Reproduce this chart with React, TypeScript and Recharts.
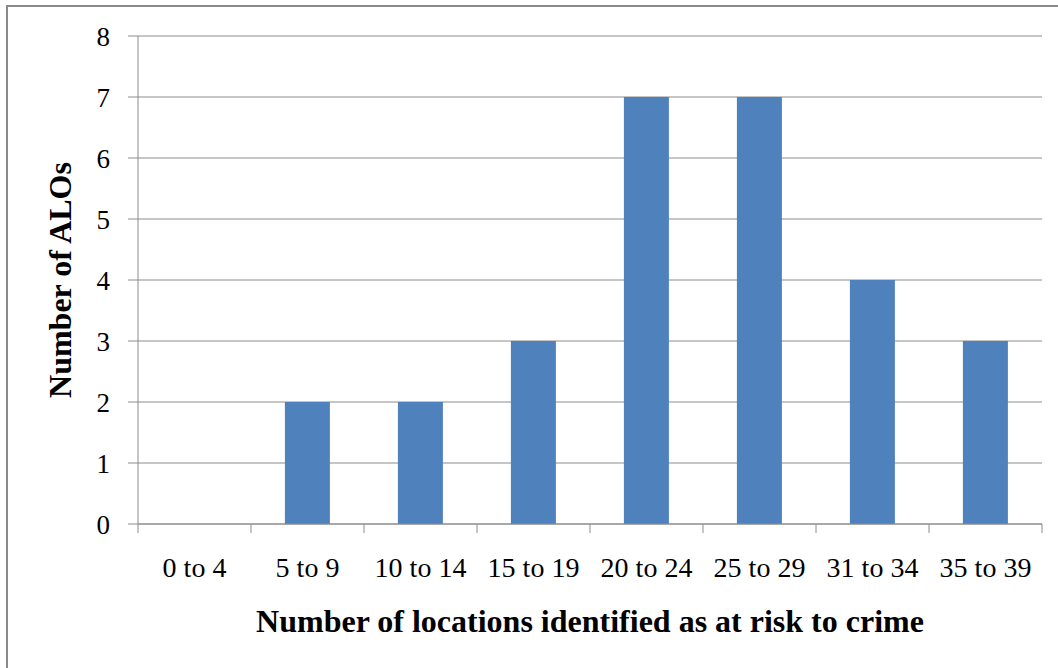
import { BarChart, Bar, XAxis, YAxis, CartesianGrid } from 'recharts'

const categories = ['0 to 4', '5 to 9', '10 to 14', '15 to 19', '20 to 24', '25 to 29', '31 to 34', '35 to 39']
const aloCounts = [0, 2, 2, 3, 7, 7, 4, 3]
const yTicks = [0, 1, 2, 3, 4, 5, 6, 7, 8]

const data = categories.map((name, i) => ({ name, value: aloCounts[i] }))

const FONT = '"Liberation Serif", "Times New Roman", serif'
const GRID = '#8c8c8c'
const X_TICK_SIZE = 9
const X_TICK_MARGIN = 24

function XTick(props: any) {
  const { x, y, payload, index, width } = props
  const half = payload.offset ?? width / categories.length / 2
  const axisY = y - X_TICK_SIZE - X_TICK_MARGIN
  return (
    <g>
      <line x1={x - half} x2={x - half} y1={axisY} y2={axisY + X_TICK_SIZE} stroke={GRID} />
      {index === categories.length - 1 && (
        <line x1={x + half} x2={x + half} y1={axisY} y2={axisY + X_TICK_SIZE} stroke={GRID} />
      )}
      <text x={x} y={y} dy="0.71em" textAnchor="middle" fill="#000" fontSize={28} fontFamily={FONT}>
        {payload.value}
      </text>
    </g>
  )
}

export default function App() {
  return (
    <div style={{ position: 'absolute', left: 0, top: 0, width: 1058, height: 668, background: '#fff', overflow: 'hidden' }}>
      <div
        style={{
          position: 'absolute',
          left: 6,
          top: 5,
          width: 1070,
          height: 700,
          border: '2px solid #8a8a8a',
        }}
      />
      <BarChart
        width={1058}
        height={668}
        data={data}
        margin={{ top: 36, right: 16, bottom: 0, left: 0 }}
        barCategoryGap="30%"
        style={{ position: 'absolute', left: 0, top: 0 }}
      >
        <CartesianGrid horizontal vertical={false} stroke={GRID} strokeWidth={1} />
        <XAxis
          dataKey="name"
          height={144}
          axisLine={{ stroke: GRID }}
          tickLine={false}
          tickSize={X_TICK_SIZE}
          tickMargin={X_TICK_MARGIN}
          interval={0}
          tick={<XTick />}
          label={(p: any) => (
            <text
              x={p.viewBox.x + p.viewBox.width / 2}
              y={632}
              textAnchor="middle"
              fontFamily={FONT}
              fontWeight="bold"
              fontSize={32}
              fill="#000"
            >
              Number of locations identified as at risk to crime
            </text>
          )}
        />
        <YAxis
          width={138}
          domain={[0, 8]}
          ticks={yTicks}
          interval={0}
          axisLine={{ stroke: GRID }}
          tickLine={{ stroke: GRID }}
          tickSize={10}
          tickMargin={18}
          tick={{ fill: '#000', fontSize: 27, fontFamily: FONT }}
          label={(p: any) => (
            <text
              x={60}
              y={p.viewBox.y + p.viewBox.height / 2}
              transform={`rotate(-90, 60, ${p.viewBox.y + p.viewBox.height / 2})`}
              textAnchor="middle"
              dominantBaseline="central"
              fontFamily={FONT}
              fontWeight="bold"
              fontSize={32}
              fill="#000"
            >
              Number of ALOs
            </text>
          )}
        />
        <Bar dataKey="value" fill="#4F81BD" isAnimationActive={false} />
      </BarChart>
    </div>
  )
}
